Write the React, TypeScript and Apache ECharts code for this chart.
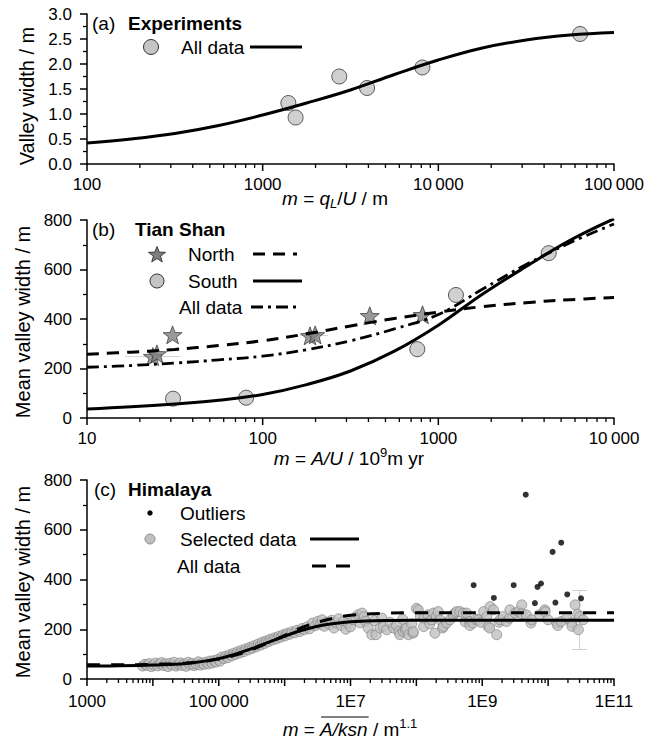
import React, { useEffect, useRef } from "react";
import * as echarts from "echarts";

const FONT = '"Liberation Sans", Arial, sans-serif';
const TICK_FS = 17;
const LEG_FS = 19;
const YT_FS = 20;

// ---------- Panel (a) Experiments ----------
const aTicks = [100, 1000, 10000, 100000];
const aPointX = [1400, 1540, 2730, 3930, 8110, 64100];
const aPointY = [1.22, 0.93, 1.75, 1.52, 1.93, 2.6];
const aFitX = [100, 178, 316, 562, 1000, 1780, 3160, 5620, 10000, 17800, 31600, 56200, 100000];
const aFitY = [0.42, 0.5, 0.61, 0.77, 0.98, 1.22, 1.48, 1.79, 2.08, 2.32, 2.48, 2.58, 2.63];

// ---------- Panel (b) Tian Shan ----------
const bTicks = [10, 100, 1000, 10000];
const bNorthX = [23.7, 25, 30.7, 186, 199, 407, 813];
const bNorthY = [248, 259, 336, 332, 336, 413, 417];
const bSouthX = [30.9, 80.5, 759, 1260, 4250];
const bSouthY = [78, 82, 278, 497, 666];
const bFitX = [10, 17.8, 31.6, 56.2, 100, 178, 316, 562, 1000, 1780, 3160, 5620, 10000];
const bNorthFitY = [258, 266, 277, 293, 312, 340, 372, 402, 428, 450, 466, 478, 487];
const bSouthFitY = [36, 45, 57, 72, 95, 135, 190, 270, 375, 500, 612, 718, 805];
const bAllFitY = [205, 212, 222, 235, 250, 276, 312, 360, 418, 520, 620, 708, 784];
// horizontal error bars: [xLow, xHigh, y]
const bErrBars = [
  [16.5, 34, 248],
  [162, 235, 336],
];

// ---------- Panel (c) Himalaya ----------
const cTicks = [1e3, 1e4, 1e5, 1e6, 1e7, 1e8, 1e9, 1e10, 1e11];
const cLabelTicks = [1e3, 1e5, 1e7, 1e9, 1e11];
const cFitX = [1e3, 3.16e3, 1e4, 3.16e4, 1e5, 1.78e5, 3.16e5, 5.62e5, 1e6, 1.78e6, 3.16e6, 5.62e6, 1e7, 3.16e7, 1e8, 1e9, 1e10, 1e11];
const cSelFitY = [52, 53, 56, 62, 82, 100, 122, 147, 172, 195, 212, 223, 230, 235, 236, 236, 236, 236];
const cAllFitY = [57, 57, 59, 64, 80, 96, 118, 145, 175, 205, 228, 245, 256, 264, 266, 266, 266, 266];
const cOutX = [7.4e8, 1.5e9, 3.0e9, 4.57e9, 6.3e9, 6.9e9, 7.8e9, 1.17e10, 1.29e10, 1.58e10, 1.95e10, 3.16e10];
const cOutY = [377, 326, 377, 741, 305, 370, 384, 511, 307, 548, 340, 324];
// vertical error bar: [x, yLow, yHigh]
const cErrBar = [3.0e10, 120, 358];

const cSelectedLow: [number, number][] = [
  [7.0e3, 52], [7.6e3, 59], [8.2e3, 55], [8.8e3, 62], [9.5e3, 50], [1.02e4, 57], [1.1e4, 64], [1.18e4, 53],
  [1.27e4, 60], [1.36e4, 66], [1.46e4, 54], [1.57e4, 61], [1.69e4, 50], [1.82e4, 63], [1.96e4, 56], [2.1e4, 67],
  [2.26e4, 52], [2.43e4, 59], [2.6e4, 65], [2.8e4, 54], [3.0e4, 61], [3.2e4, 51], [3.45e4, 67], [3.7e4, 57],
  [3.95e4, 63], [4.25e4, 54], [4.55e4, 60], [4.9e4, 69], [5.25e4, 56], [5.6e4, 64], [6.0e4, 59], [6.45e4, 68],
  [6.9e4, 61], [7.4e4, 72], [7.9e4, 64], [8.5e4, 74], [9.1e4, 68], [9.8e4, 79], [1.05e5, 72],
];
const cSelectedRise: [number, number][] = [
  [1.12e5, 88], [1.2e5, 82], [1.29e5, 92], [1.38e5, 86], [1.48e5, 98], [1.58e5, 93], [1.7e5, 104], [1.82e5, 99],
  [1.95e5, 110], [2.1e5, 105], [2.25e5, 116], [2.4e5, 110], [2.6e5, 122], [2.8e5, 117], [3.0e5, 128], [3.2e5, 123],
  [3.45e5, 134], [3.7e5, 129], [4.0e5, 141], [4.3e5, 136], [4.6e5, 148], [4.95e5, 143], [5.3e5, 154], [5.7e5, 150],
  [6.1e5, 160], [6.6e5, 157], [7.1e5, 166], [7.6e5, 162], [8.2e5, 172], [8.8e5, 168], [9.5e5, 178], [1.02e6, 174],
  [1.1e6, 184], [1.2e6, 180], [1.3e6, 190], [1.42e6, 186], [1.55e6, 196], [1.7e6, 191], [1.85e6, 203], [2.0e6, 198],
];
const cSelectedPlateau: [number, number][] = [
  [2.2e6, 210], [2.4e6, 202], [2.65e6, 225], [2.9e6, 214], [3.2e6, 232], [3.5e6, 220], [3.7e6, 238], [4.0e6, 212],
  [4.4e6, 229], [4.8e6, 219], [5.2e6, 236], [5.6e6, 205], [6.0e6, 226], [6.6e6, 242], [7.2e6, 215], [7.8e6, 231],
  [8.5e6, 200], [9.2e6, 224], [1.0e7, 210], [1.1e7, 238], [1.2e7, 248], [1.3e7, 258], [1.4e7, 226], [1.5e7, 265],
  [1.6e7, 250], [1.7e7, 232], [1.85e7, 205], [2.1e7, 178], [2.3e7, 235], [2.45e7, 178], [2.8e7, 205], [3.0e7, 245],
  [3.15e7, 211], [3.55e7, 198], [4.0e7, 228], [4.5e7, 205], [5.0e7, 215], [5.4e7, 191], [5.62e7, 178], [6.2e7, 240],
  [6.31e7, 191], [6.8e7, 198], [7.08e7, 204], [7.6e7, 178], [8.5e7, 222], [8.91e7, 184], [9.0e7, 190], [1.0e8, 284],
  [1.07e8, 278], [1.15e8, 251], [1.29e8, 211], [1.3e8, 245], [1.51e8, 258], [1.6e8, 222], [1.7e8, 238], [1.82e8, 265],
  [1.91e8, 184], [2.0e8, 250], [2.14e8, 271], [2.29e8, 238], [2.5e8, 205], [2.57e8, 211], [2.88e8, 225], [3.24e8, 238],
  [3.63e8, 258], [3.89e8, 265], [4.07e8, 271], [4.57e8, 271], [5.13e8, 265], [5.5e8, 230], [5.75e8, 265], [6.46e8, 231],
  [6.5e8, 215], [7.24e8, 225], [8.0e8, 240], [8.71e8, 238], [9.5e8, 228], [1.05e9, 271], [1.17e9, 251], [1.23e9, 211],
  [1.3e9, 205], [1.32e9, 291], [1.48e9, 278], [1.66e9, 178], [1.8e9, 228], [1.86e9, 238], [2.09e9, 251], [2.34e9, 231],
  [2.6e9, 245], [2.63e9, 278], [3.16e9, 265], [3.55e9, 271], [3.98e9, 298], [4.0e9, 262], [4.68e9, 258], [5.5e9, 225],
  [5.62e9, 238], [7.41e9, 258], [8.91e9, 278], [9.0e9, 270], [1.0e10, 238], [1.35e10, 225], [1.4e10, 215], [1.58e10, 231],
  [1.91e10, 245], [2.29e10, 225], [2.3e10, 212], [2.57e10, 298], [2.8e10, 260], [2.88e10, 198], [3.02e10, 251], [3.39e10, 238],
];

// star marker shape (unit coordinates)
const STAR_UNIT = [
  [0, -1], [0.247, -0.34], [0.951, -0.309], [0.399, 0.13], [0.588, 0.809],
  [0, 0.42], [-0.588, 0.809], [-0.399, 0.13], [-0.951, -0.309], [-0.247, -0.34],
];
const STAR_PATH =
  "path://" + STAR_UNIT.map((p, i) => (i === 0 ? "M" : "L") + p[0] + "," + p[1]).join("") + "Z";

function zip(xs: number[], ys: number[]) {
  return xs.map((x, i) => [x, ys[i]]);
}

function minorLog(min: number, max: number) {
  const out: number[] = [];
  for (let d = min; d < max * 0.999; d *= 10) {
    for (let k = 2; k <= 9; k++) out.push(d * k);
  }
  return out;
}

function thousands(v: number) {
  const n = Math.round(v);
  const s = String(n);
  if (n >= 10000) return s.replace(/\B(?=(\d{3})+(?!\d))/g, "\u2009");
  return s;
}

function cFormat(v: number) {
  const e = Math.round(Math.log10(v));
  if (e === 3) return "1000";
  if (e === 5) return "100\u2009000";
  return "1E" + e;
}

const BLACK = "#000";

function xMain(gridIndex: number, min: number, max: number, labels: number[], formatter: any, margin: number) {
  return {
    type: "log",
    logBase: 10,
    gridIndex,
    min,
    max,
    position: "bottom",
    axisLine: { show: true, onZero: false, lineStyle: { color: BLACK, width: 1.5 } },
    axisTick: { show: false },
    axisLabel: { show: true, customValues: labels, formatter, color: BLACK, fontSize: TICK_FS, fontFamily: FONT, margin, hideOverlap: false },
    splitLine: { show: false },
    minorTick: { show: false },
    minorSplitLine: { show: false },
  };
}

function yAxis(gridIndex: number, max: number, interval: number, formatter: any) {
  return {
    type: "value",
    gridIndex,
    min: 0,
    max,
    interval,
    axisLine: { show: true, onZero: false, lineStyle: { color: BLACK, width: 1.5 } },
    axisTick: { show: true, inside: false, length: 7, lineStyle: { color: BLACK, width: 1.5 } },
    minorTick: { show: true, splitNumber: 2, length: 4, lineStyle: { color: BLACK, width: 1.3 } },
    axisLabel: { color: BLACK, fontSize: TICK_FS, fontFamily: FONT, margin: 15, formatter },
    splitLine: { show: false },
    minorSplitLine: { show: false },
  };
}

// x-axis ticks drawn through the axis scale (major = 7px, minor = 4px)
function tickSeries(xAxisIndex: number, yAxisIndex: number, major: number[], min: number, max: number) {
  const data = [...major.map((v) => [v, 7]), ...minorLog(min, max).map((v) => [v, 4])];
  return {
    type: "custom",
    xAxisIndex,
    yAxisIndex,
    silent: true,
    clip: false,
    z: 5,
    data,
    renderItem: (_p: any, api: any) => {
      const pt = api.coord([api.value(0), 0]);
      const len = api.value(1);
      return {
        type: "line",
        shape: { x1: pt[0], y1: pt[1], x2: pt[0], y2: pt[1] + len },
        style: { stroke: BLACK, lineWidth: len > 5 ? 1.5 : 1.3 },
      };
    },
  };
}

function txt(text: string, x: number, y: number, extra: any = {}, el: any = {}) {
  return {
    type: "text",
    x,
    y,
    z: 100,
    ...el,
    style: { text, fontSize: LEG_FS, fontFamily: FONT, fill: BLACK, align: "left", verticalAlign: "middle", ...extra },
  };
}

function hline(x1: number, x2: number, y: number, dash: number[] | null, width = 3) {
  return {
    type: "line",
    z: 100,
    shape: { x1, y1: y, x2, y2: y },
    style: { stroke: BLACK, lineWidth: width, lineDash: dash || undefined },
  };
}

function measure(text: string, font: string) {
  const c = document.createElement("canvas").getContext("2d");
  if (!c) return text.length * 9;
  c.font = font;
  return c.measureText(text).width;
}

function buildOption() {
  const XT = 19;
  const richBase = {
    i: { fontStyle: "italic", fontSize: XT, fontFamily: FONT, lineHeight: 24 },
    n: { fontSize: XT, fontFamily: FONT, lineHeight: 24 },
    sub: { fontStyle: "italic", fontSize: 13, fontFamily: FONT, verticalAlign: "bottom", lineHeight: 13 },
    sup: { fontSize: 13, fontFamily: FONT, verticalAlign: "top", lineHeight: 13 },
  };

  // overline position for panel (c) x-axis title
  const itF = `italic ${XT}px "Liberation Sans"`;
  const nF = `${XT}px "Liberation Sans"`;
  const sF = '13px "Liberation Sans"';
  const wM = measure("m", itF);
  const wEq = measure(" = ", nF);
  const wA = measure("A/ksn", itF);
  const wTail = measure(" / m", nF);
  const wSup = measure("1.1", sF);
  const cTitleCx = 350;
  const cTitleY = 729;
  const total = wM + wEq + wA + wTail + wSup;
  const ovX1 = cTitleCx - total / 2 + wM + wEq + 1;
  const ovX2 = ovX1 + wA;

  const starPts = (cx: number, cy: number, r: number) => STAR_UNIT.map((p) => [cx + p[0] * r, cy + p[1] * r * 0.95]);

  const graphic = [
    // panel (a)
    txt("(a)", 92, 23),
    txt("Experiments", 128, 23, { fontWeight: "bold" }),
    { type: "circle", z: 100, shape: { cx: 151, cy: 47, r: 7.5 }, style: { fill: "#c4c4c4", stroke: "#333", lineWidth: 1 } },
    txt("All data", 181, 47),
    hline(250, 302, 47, null),
    txt("{i|m} = {i|q}{sub|L}{n|/}{i|U} / m", 335, 198, { align: "center", rich: richBase, fontSize: XT }),
    txt("Valley width / m", 27, 96, { align: "center", fontSize: YT_FS }, { rotation: Math.PI / 2 }),

    // panel (b)
    txt("(b)", 92, 229),
    txt("Tian Shan", 135, 229, { fontWeight: "bold" }),
    { type: "polygon", z: 100, shape: { points: starPts(157, 255, 9) }, style: { fill: "#7f7f7f", stroke: "#222", lineWidth: 0.8 } },
    txt("North", 188, 254),
    hline(253, 297, 254, [12, 8]),
    { type: "circle", z: 100, shape: { cx: 157, cy: 281, r: 7 }, style: { fill: "#c4c4c4", stroke: "#333", lineWidth: 1 } },
    txt("South", 188, 281),
    hline(253, 302, 281, null),
    txt("All data", 179, 307),
    hline(251, 300, 307, [12, 5, 3, 5], 2.8),
    txt("{i|m} = {i|A/U} / 10{sup|9}m yr", 349, 458, { align: "center", rich: richBase, fontSize: XT }),
    txt("Mean valley width / m", 23, 322, { align: "center", fontSize: YT_FS }, { rotation: Math.PI / 2 }),

    // panel (c)
    txt("(c)", 94, 489),
    txt("Himalaya", 128, 489, { fontWeight: "bold" }),
    { type: "circle", z: 100, shape: { cx: 150, cy: 513, r: 2.7 }, style: { fill: "#000" } },
    txt("Outliers", 180, 513),
    { type: "circle", z: 100, shape: { cx: 150, cy: 539, r: 5 }, style: { fill: "#c0c0c0", stroke: "#777", lineWidth: 0.8 } },
    txt("Selected data", 180, 539),
    hline(310, 359, 539, null),
    txt("All data", 177, 566),
    hline(312, 350, 566, [14, 10]),
    txt("{i|m} = {i|A/ksn} / m{sup|1.1}", cTitleCx, cTitleY, { align: "center", rich: richBase, fontSize: XT }),
    { type: "line", z: 100, shape: { x1: ovX1, y1: cTitleY - 12, x2: ovX2, y2: cTitleY - 12 }, style: { stroke: BLACK, lineWidth: 1 } },
    txt("Mean valley width / m", 23, 582, { align: "center", fontSize: YT_FS }, { rotation: Math.PI / 2 }),
  ];

  const circleStyle = { color: "#c4c4c4", borderColor: "#333", borderWidth: 1 };

  return {
    animation: false,
    backgroundColor: "#fff",
    textStyle: { fontFamily: FONT },
    grid: [
      { left: 87, top: 14, width: 527, height: 150, outerBoundsMode: "none", containLabel: false },
      { left: 87, top: 220, width: 527, height: 198, outerBoundsMode: "none", containLabel: false },
      { left: 87, top: 480, width: 527, height: 199, outerBoundsMode: "none", containLabel: false },
    ],
    xAxis: [
      xMain(0, 100, 100000, aTicks, thousands, 12),
      xMain(1, 10, 10000, bTicks, thousands, 12),
      xMain(2, 1e3, 1e11, cLabelTicks, cFormat, 14),
    ],
    yAxis: [
      yAxis(0, 3, 0.5, (v: number) => v.toFixed(1)),
      yAxis(1, 800, 200, (v: number) => String(v)),
      yAxis(2, 800, 200, (v: number) => String(v)),
    ],
    graphic: { elements: graphic },
    series: [
      // x-axis ticks
      tickSeries(0, 0, aTicks, 100, 100000),
      tickSeries(1, 1, bTicks, 10, 10000),
      tickSeries(2, 2, cTicks, 1e3, 1e11),
      // (a)
      {
        type: "scatter", xAxisIndex: 0, yAxisIndex: 0, data: zip(aPointX, aPointY),
        symbol: "circle", symbolSize: 15, itemStyle: circleStyle, z: 2,
      },
      {
        type: "line", xAxisIndex: 0, yAxisIndex: 0, data: zip(aFitX, aFitY), smooth: 0.4,
        symbol: "none", lineStyle: { color: BLACK, width: 3 }, z: 3,
      },
      // (b)
      {
        type: "lines", coordinateSystem: "cartesian2d", xAxisIndex: 1, yAxisIndex: 1,
        data: bErrBars.map((b) => ({ coords: [[b[0], b[2]], [b[1], b[2]]] })),
        lineStyle: { color: "#d6d6d6", width: 1, opacity: 1 }, z: 1,
      },
      {
        type: "scatter", xAxisIndex: 1, yAxisIndex: 1, data: zip(bNorthX, bNorthY),
        symbol: STAR_PATH, symbolSize: [19, 18], itemStyle: { color: "#7f7f7f", borderColor: "#222", borderWidth: 0.8 }, z: 2,
      },
      {
        type: "scatter", xAxisIndex: 1, yAxisIndex: 1, data: zip(bSouthX, bSouthY),
        symbol: "circle", symbolSize: 15, itemStyle: circleStyle, z: 2,
      },
      {
        type: "line", xAxisIndex: 1, yAxisIndex: 1, data: zip(bFitX, bNorthFitY), smooth: 0.4,
        symbol: "none", lineStyle: { color: BLACK, width: 3, type: [12, 8] }, z: 3,
      },
      {
        type: "line", xAxisIndex: 1, yAxisIndex: 1, data: zip(bFitX, bSouthFitY), smooth: 0.4,
        symbol: "none", lineStyle: { color: BLACK, width: 3 }, z: 3,
      },
      {
        type: "line", xAxisIndex: 1, yAxisIndex: 1, data: zip(bFitX, bAllFitY), smooth: 0.4,
        symbol: "none", lineStyle: { color: BLACK, width: 2.8, type: [12, 5, 3, 5] }, z: 3,
      },
      // (c)
      {
        type: "lines", coordinateSystem: "cartesian2d", xAxisIndex: 2, yAxisIndex: 2,
        data: [
          { coords: [[cErrBar[0], cErrBar[1]], [cErrBar[0], cErrBar[2]]] },
          { coords: [[cErrBar[0] / 1.3, cErrBar[1]], [cErrBar[0] * 1.3, cErrBar[1]]] },
          { coords: [[cErrBar[0] / 1.3, cErrBar[2]], [cErrBar[0] * 1.3, cErrBar[2]]] },
        ],
        lineStyle: { color: "#d0d0d0", width: 1, opacity: 1 }, z: 1,
      },
      {
        type: "scatter", xAxisIndex: 2, yAxisIndex: 2,
        data: [...cSelectedLow, ...cSelectedRise, ...cSelectedPlateau],
        symbol: "circle", symbolSize: 10, itemStyle: { color: "#c0c0c0", borderColor: "#7a7a7a", borderWidth: 0.8 }, z: 2,
      },
      {
        type: "line", xAxisIndex: 2, yAxisIndex: 2, data: zip(cFitX, cSelFitY), smooth: 0.4,
        symbol: "none", lineStyle: { color: BLACK, width: 3 }, z: 3,
      },
      {
        type: "line", xAxisIndex: 2, yAxisIndex: 2, data: zip(cFitX, cAllFitY), smooth: 0.4,
        symbol: "none", lineStyle: { color: BLACK, width: 3, type: [13, 11] }, z: 3,
      },
      {
        type: "scatter", xAxisIndex: 2, yAxisIndex: 2, data: zip(cOutX, cOutY),
        symbol: "circle", symbolSize: 6, itemStyle: { color: "#000" }, z: 4,
      },
    ],
  };
}

export default function App() {
  const ref = useRef<HTMLDivElement>(null);
  useEffect(() => {
    document.body.style.margin = "0";
    if (!ref.current) return;
    const chart = echarts.init(ref.current, null, { renderer: "svg" });
    chart.setOption(buildOption() as any);
    return () => chart.dispose();
  }, []);
  return <div ref={ref} style={{ width: 659, height: 746, background: "#fff" }} />;
}
